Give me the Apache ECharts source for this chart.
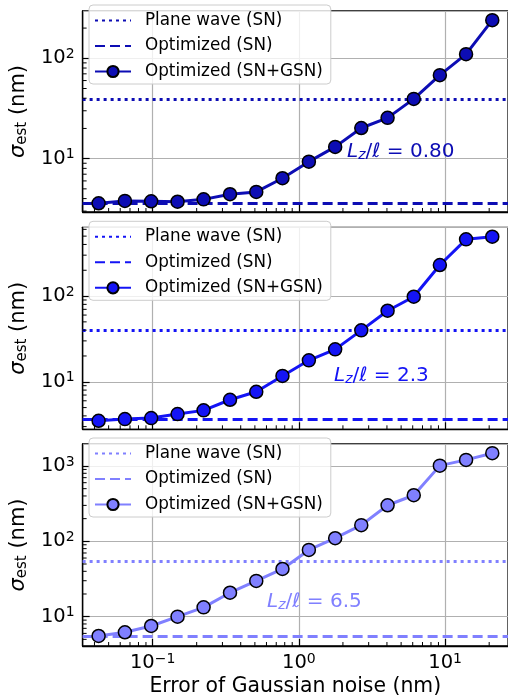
<!DOCTYPE html>
<html>
<head>
<meta charset="utf-8">
<script src="https://cdn.jsdelivr.net/npm/echarts@6/dist/echarts.min.js"></script>
<style>
  html, body { margin: 0; padding: 0; background: #fff; }
  #chart { width: 508px; height: 700px; }
</style>
</head>
<body>
<div id="chart"></div>
<script>
// error of gaussian noise (nm), shared by the three panels
var noise = [0.0427, 0.0646, 0.0977, 0.148, 0.223, 0.338, 0.511, 0.772, 1.17, 1.77, 2.67, 4.04, 6.1, 9.2, 13.9, 21.0];

// optimized (SN+GSN), one array per panel
var sigmaLow = [3.59, 3.79, 3.76, 3.72, 3.93, 4.42, 4.66, 6.38, 9.33, 13.1, 20.2, 25.5, 39.4, 67.9, 110, 240];
var sigmaMid = [3.51, 3.67, 3.77, 4.20, 4.64, 6.17, 7.64, 11.7, 17.8, 23.9, 39.8, 67.4, 98.2, 230, 459, 492];
var sigmaHigh = [5.54, 6.21, 7.52, 10.0, 13.3, 20.8, 29.8, 43.0, 76.9, 110, 164, 301, 409, 1011, 1205, 1479];

// horizontal reference levels
var planeWaveSN = [39.1, 39.8, 55.0];
var optimizedSN = [3.6, 3.64, 5.42];

var ratioLabels = ['0.80', '2.3', '6.5'];
var legendNames = ['Plane wave (SN)', 'Optimized (SN)', 'Optimized (SN+GSN)'];

var colors = ['#0d0db4', '#1414f5', '#8080ff'];
var FONT = 'DejaVu Sans';
var LW = 3;

var panels = [
  {sigma: sigmaLow, top: 11, height: 201, ymin: 2.94, ymax: 296, textX: 347, textY: 152},
  {sigma: sigmaMid, top: 227.3, height: 202, ymin: 2.79, ymax: 634, textX: 334, textY: 376},
  {sigma: sigmaHigh, top: 444, height: 202, ymin: 4.08, ymax: 1958, textX: 267, textY: 602}
];
var xMin = 0.0332, xMax = 26.9;

function isDecade(v) {
  var l = Math.log(v) / Math.LN10;
  return Math.abs(l - Math.round(l)) < 1e-6;
}

function powLabel(v) {
  if (!isDecade(v)) { return ''; }
  var e = Math.round(Math.log(v) / Math.LN10);
  return '{b|10}{s|' + (e < 0 ? '\u2212' + (-e) : e) + '}';
}

var powRich = {
  b: {fontFamily: FONT, fontSize: 19.5, color: '#000'},
  s: {fontFamily: FONT, fontSize: 14, color: '#000', padding: [0, 0, 8, 0]}
};

function minorValues(lo, hi) {
  var out = [];
  var e0 = Math.floor(Math.log(lo) / Math.LN10), e1 = Math.ceil(Math.log(hi) / Math.LN10);
  for (var e = e0; e <= e1; e++) {
    for (var m = 2; m <= 9; m++) {
      var v = m * Math.pow(10, e);
      if (v > lo && v < hi) { out.push(v); }
    }
  }
  return out;
}

var grids = [], xAxes = [], yAxes = [], series = [], legends = [], graphics = [];
var labelOf = {};

panels.forEach(function (p, i) {
  var c = colors[i];
  grids.push({
    left: 81.5, top: p.top, width: 428.5, height: p.height,
    show: true, borderColor: '#000', borderWidth: 1.3, backgroundColor: 'transparent'
  });
  xAxes.push({
    type: 'log', logBase: 10, gridIndex: i, min: xMin, max: xMax,
    axisLine: {show: true, lineStyle: {color: '#000', width: 1.3}},
    axisTick: {show: true, inside: true, length: 7, lineStyle: {color: '#000', width: 1.2}},
    axisLabel: {show: i === 2, formatter: powLabel, rich: powRich, margin: 6,
      showMinLabel: false, showMaxLabel: false},
    splitLine: {show: true, lineStyle: {color: '#b0b0b0', width: 1.2}},
    name: i === 2 ? 'Error of Gaussian noise (nm)' : '',
    nameLocation: 'middle', nameGap: 31,
    nameTextStyle: {fontFamily: FONT, fontSize: 20.4, color: '#000'}
  });
  yAxes.push({
    type: 'log', logBase: 10, gridIndex: i, min: p.ymin, max: p.ymax,
    axisLine: {show: true, lineStyle: {color: '#000', width: 1.3}},
    axisTick: {show: true, inside: true, length: 7, lineStyle: {color: '#000', width: 1.2}},
    axisLabel: {formatter: powLabel, rich: powRich, margin: 8,
      showMinLabel: false, showMaxLabel: false},
    splitLine: {show: true, lineStyle: {color: '#b0b0b0', width: 1.2}},
    name: '{i|\u03c3}{sub|est}{n| (nm)}',
    nameLocation: 'middle', nameGap: 46, nameRotate: 90,
    nameTextStyle: {
      rich: {
        i: {fontFamily: FONT, fontSize: 21, fontStyle: 'italic', color: '#000'},
        sub: {fontFamily: FONT, fontSize: 15, color: '#000', padding: [8, 0, 0, 0]},
        n: {fontFamily: FONT, fontSize: 21, color: '#000'}
      }
    }
  });

  var pw = 'pw' + i, op = 'op' + i, gs = 'gs' + i;
  labelOf[pw] = legendNames[0];
  labelOf[op] = legendNames[1];
  labelOf[gs] = legendNames[2];

  // the two flat levels are drawn as markLines; their own symbols stay hidden
  series.push({
    name: pw, type: 'line', xAxisIndex: i, yAxisIndex: i, data: [],
    symbol: 'none', color: c,
    itemStyle: {opacity: 0},
    lineStyle: {color: c, width: LW, type: [3, 4]},
    markLine: {
      silent: true, symbol: 'none', label: {show: false},
      lineStyle: {color: c, width: LW, type: [3, 4], opacity: 1},
      data: [{yAxis: planeWaveSN[i]}]
    }
  });
  series.push({
    name: op, type: 'line', xAxisIndex: i, yAxisIndex: i, data: [],
    symbol: 'none', color: c,
    itemStyle: {opacity: 0},
    lineStyle: {color: c, width: LW, type: [10, 5]},
    markLine: {
      silent: true, symbol: 'none', label: {show: false},
      lineStyle: {color: c, width: LW, type: [10, 5], opacity: 1},
      data: [{yAxis: optimizedSN[i]}]
    }
  });
  series.push({
    name: gs, type: 'line', xAxisIndex: i, yAxisIndex: i, z: 5,
    data: noise.map(function (x, k) { return [x, p.sigma[k]]; }),
    symbol: 'circle', symbolSize: 13, color: c,
    lineStyle: {color: c, width: LW},
    itemStyle: {color: c, borderColor: '#000', borderWidth: 1.5}
  });

  // minor log ticks along the bottom and left spines
  var minorX = minorValues(xMin, xMax).map(function (v) { return [v, p.ymin]; });
  var minorY = minorValues(p.ymin, p.ymax).map(function (v) { return [xMin, v]; });
  series.push({
    type: 'custom', xAxisIndex: i, yAxisIndex: i, silent: true, z: 6,
    data: minorX,
    renderItem: function (params, api) {
      var pt = api.coord([api.value(0), api.value(1)]);
      return {type: 'line', shape: {x1: pt[0], y1: pt[1], x2: pt[0], y2: pt[1] - 4},
        style: {stroke: '#000', lineWidth: 1}};
    }
  });
  series.push({
    type: 'custom', xAxisIndex: i, yAxisIndex: i, silent: true, z: 6,
    data: minorY,
    renderItem: function (params, api) {
      var pt = api.coord([api.value(0), api.value(1)]);
      return {type: 'line', shape: {x1: pt[0], y1: pt[1], x2: pt[0] + 4, y2: pt[1]},
        style: {stroke: '#000', lineWidth: 1}};
    }
  });

  legends.push({
    data: [pw, op, gs],
    orient: 'vertical', left: 89, top: p.top - 6,
    itemWidth: 36, itemHeight: 14, itemGap: 8.5,
    padding: [7, 8, 4, 5],
    backgroundColor: 'rgba(255,255,255,0.8)',
    borderColor: '#cccccc', borderWidth: 1, borderRadius: 4,
    selectedMode: false,
    formatter: function (name) { return labelOf[name]; },
    textStyle: {fontFamily: FONT, fontSize: 16.8, color: '#000', padding: [0, 0, 0, 9]}
  });

  graphics.push({
    type: 'text', x: p.textX, y: p.textY, z: 10,
    style: {
      text: '{i|L}{sub|z}{n|/\u2113 = ' + ratioLabels[i] + '}',
      verticalAlign: 'middle',
      rich: {
        i: {fontFamily: FONT, fontSize: 20, fontStyle: 'italic', fill: c, color: c},
        sub: {fontFamily: FONT, fontSize: 14, fontStyle: 'italic', fill: c, color: c, padding: [7, 0, 0, 0]},
        n: {fontFamily: FONT, fontSize: 20, fill: c, color: c}
      }
    }
  });
});

var chart = echarts.init(document.getElementById('chart'), null, {renderer: 'canvas'});
chart.setOption({
  animation: false,
  backgroundColor: '#fff',
  grid: grids,
  xAxis: xAxes,
  yAxis: yAxes,
  legend: legends,
  series: series,
  graphic: graphics
});
</script>
</body>
</html>
